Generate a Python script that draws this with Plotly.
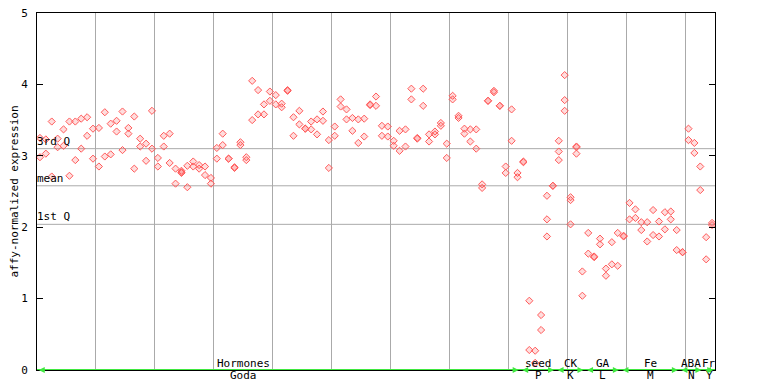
import plotly.graph_objects as go

# ---- data ----
column_values = [
    [3.25, 2.98], [3.23, 3.03], [3.48, 2.71], [3.24, 3.12], [3.37, 3.14],
    [3.48, 2.72], [3.48, 2.94], [3.52, 3.10], [3.54, 3.28], [3.38, 2.96],
    [3.39, 2.85], [3.61, 2.99], [3.45, 3.02], [3.49, 3.34], [3.62, 3.08],
    [3.39, 3.31], [3.55, 2.82], [3.24, 3.13], [3.17, 2.93], [3.63, 3.10],
    [2.97, 2.85], [3.28, 3.13], [3.31, 2.90], [2.82, 2.61], [2.79, 2.77, 2.76],
    [2.86, 2.56], [2.92, 2.85], [2.87, 2.82], [2.85, 2.73], [2.69, 2.61],
    [3.11, 2.96], [3.31, 3.15], [2.96, 2.96], [2.84, 2.83], [3.19, 3.15],
    [2.98, 2.94], [4.05, 3.50], [3.92, 3.58], [3.72, 3.58], [3.90, 3.77],
    [3.85, 3.72], [3.73, 3.68], [3.92, 3.91], [3.54, 3.28], [3.63, 3.44],
    [3.38, 3.38], [3.48, 3.37], [3.51, 3.30], [3.62, 3.49], [3.22, 2.83],
    [3.41, 3.28], [3.79, 3.69], [3.65, 3.51], [3.53, 3.35], [3.51, 3.18],
    [3.52, 3.27], [3.72, 3.71], [3.83, 3.70], [3.42, 3.28], [3.41, 3.27],
    [3.21, 3.14], [3.35, 3.07], [3.37, 3.13], [3.94, 3.79], [3.25, 3.24],
    [3.94, 3.70], [3.30, 3.20], [3.34, 3.30], [3.46, 3.42], [3.17, 2.97],
    [3.84, 3.79], [3.56, 3.53], [3.38, 3.31], [3.37, 3.20], [3.37, 3.10],
    [2.60, 2.55], [3.77, 3.77], [3.91, 3.89], [3.70, 3.70], [2.85, 2.76],
    [3.65, 3.21], [2.76, 2.70], [2.92, 2.91], [0.97, 0.28], [0.27, 0.10],
    [0.77, 0.56], [2.44, 2.11, 1.87], [2.58, 2.58], [3.21, 3.06, 2.94], [4.13, 3.78, 3.63],
    [2.42, 2.38, 2.04], [3.13, 3.12, 3.03], [1.38, 1.04], [1.92, 1.63], [1.59, 1.58],
    [1.84, 1.76], [1.42, 1.32], [1.79, 1.48], [1.92, 1.46], [1.88, 1.87],
    [2.34, 2.11], [2.25, 2.13], [2.07, 1.96], [2.07, 1.80], [2.24, 1.89],
    [2.08, 1.87], [2.21, 1.97], [2.22, 2.11], [1.96, 1.68], [1.65, 1.65],
    [3.38, 3.22], [3.18, 3.04], [2.85, 2.52], [1.86, 1.55], [2.06, 2.03],
]

quantile_labels = ["3rd Q", "mean", "1st Q"]
quantile_values = [3.10, 2.58, 2.04]

group_top = ["Hormones", "seed", "CK", "GA", "Fe", "ABA", "Fr"]
group_bottom = ["Goda", "P", "K", "L", "M", "N", "Y"]
group_start = [0, 82, 88, 93, 99, 109, 113]
group_end = [81, 87, 92, 98, 108, 112, 114]

y_ticks = [0, 1, 2, 3, 4, 5]

# ---- build ----
n_cols = len(column_values)
xs, ys = [], []
for i, vals in enumerate(column_values):
    for v in vals:
        xs.append(i + 0.5)
        ys.append(v)

FONT = "DejaVu Sans Mono"
RED = "#ff5a5a"
GREEN = "#3fe83f"
GRID = "#aaaaaa"

fig = go.Figure()
fig.add_trace(go.Scatter(
    x=xs, y=ys, mode="markers",
    marker=dict(symbol="diamond", size=5.5, color="rgba(255,100,100,0.22)",
                line=dict(color=RED, width=1)),
    cliponaxis=False, hoverinfo="x+y",
))

shapes = []
annotations = []
for lab, val in zip(quantile_labels, quantile_values):
    shapes.append(dict(type="line", xref="paper", x0=0, x1=1, yref="y", y0=val, y1=val,
                       line=dict(color=GRID, width=1), layer="below"))
    annotations.append(dict(xref="paper", x=0, yref="y", y=val, text=lab, showarrow=False,
                            xanchor="left", yanchor="bottom", xshift=-2, yshift=-1,
                            font=dict(family=FONT, size=11, color="black")))

# green group line at the bottom
shapes.append(dict(type="line", xref="x", x0=0, x1=n_cols, yref="y", y0=0, y1=0,
                   line=dict(color=GREEN, width=2), layer="above"))

for k, (top, bot, s, e) in enumerate(zip(group_top, group_bottom, group_start, group_end)):
    left = s
    right = e + 1
    center = (left + right) / 2 if k > 0 else 35
    annotations.append(dict(x=center, y=0, xref="x", yref="y", text=top, showarrow=False,
                            yanchor="bottom", yshift=-2,
                            font=dict(family=FONT, size=11, color="black")))
    annotations.append(dict(x=center, y=0, xref="x", yref="y", text=bot, showarrow=False,
                            yanchor="top", yshift=3,
                            font=dict(family=FONT, size=11, color="black")))
    # arrowheads at both ends of each group
    for tip, tail in ((left + 0.3, left + 1.6), (right - 0.3, right - 1.6)):
        annotations.append(dict(x=tip, y=0, xref="x", yref="y", ax=tail, ay=0,
                                axref="x", ayref="y", text="", showarrow=True,
                                arrowhead=2, arrowsize=0.8, arrowwidth=1.5,
                                arrowcolor=GREEN))

# the page body adds an 8px margin, so the figure is sized to fill the rest
fig.update_layout(
    width=760, height=376,
    margin=dict(l=29, r=53, t=5, b=14, autoexpand=False),
    paper_bgcolor="white", plot_bgcolor="white",
    showlegend=False,
    shapes=shapes, annotations=annotations,
    font=dict(family=FONT, size=11, color="black"),
    xaxis=dict(range=[0, n_cols], tick0=0, dtick=10, showticklabels=False, ticks="",
               showgrid=True, gridcolor=GRID, gridwidth=1, zeroline=False,
               showline=True, linecolor="black", linewidth=1, mirror=True,
               automargin=False),
    yaxis=dict(range=[0, 5], tickvals=y_ticks, ticks="inside", ticklen=6,
               tickcolor="black", showgrid=False, zeroline=False,
               showline=True, linecolor="black", linewidth=1, mirror="ticks",
               ticklabelstandoff=6, automargin=False, ticklabeloverflow="allow",
               tickfont=dict(family=FONT, size=11),
               title=dict(text="affy-normalized expression", standoff=13,
                          font=dict(family=FONT, size=11))),
)

fig.write_html("out.html")
